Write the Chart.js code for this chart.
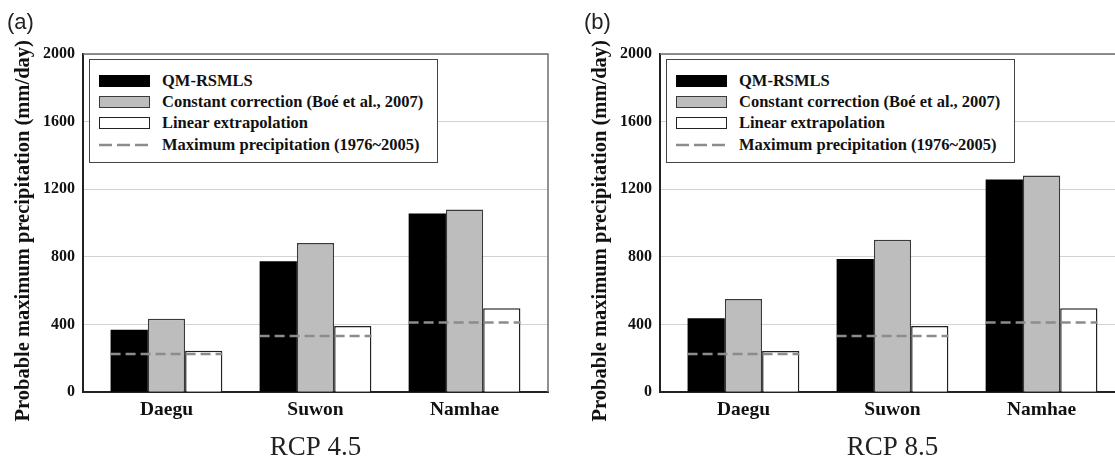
<!DOCTYPE html>
<html>
<head>
<meta charset="utf-8">
<script src="https://cdn.jsdelivr.net/npm/chart.js@4.4.1/dist/chart.umd.min.js"></script>
<style>
    html, body { margin: 0; padding: 0; background: #fff; }
    body { width: 1115px; height: 469px; overflow: hidden; position: relative; }
    .panel { position: absolute; top: 0; width: 577px; height: 469px; }
    .panel canvas { position: absolute; left: 0; top: 0; }
    .tag { position: absolute; left: 7px; top: 11px; font: 22px "Liberation Sans", sans-serif; color: #222; line-height: 1; }
    .legend { position: absolute; left: 89px; top: 59px; width: 349px; height: 104px; box-sizing: border-box;
        border: 1.5px solid #444; background: #fff; padding-top: 10px; }
    .legend .row { height: 21.3px; display: flex; align-items: center; }
    .legend .sw { width: 51px; height: 12px; box-sizing: border-box; margin-left: 9px; }
    .legend .txt { margin-left: 12px; font: bold 16.5px "Liberation Serif", serif; color: #111; white-space: nowrap; }
</style>
</head>
<body>
<div class="panel" style="left:0px">
    <canvas id="chartA" width="577" height="469"></canvas>
    <div class="tag">(a)</div>
    <div class="legend" id="legendA"></div>
</div>
<div class="panel" style="left:577px">
    <canvas id="chartB" width="577" height="469"></canvas>
    <div class="tag">(b)</div>
    <div class="legend" id="legendB"></div>
</div>
<script>
const categories = ['Daegu', 'Suwon', 'Namhae'];
const seriesNames = ['QM-RSMLS', 'Constant correction (Boé et al., 2007)', 'Linear extrapolation', 'Maximum precipitation (1976~2005)'];
const yTicks = [0, 400, 800, 1200, 1600, 2000];

// RCP 4.5
const qmRcp45 = [370, 775, 1057];
const constRcp45 = [434, 883, 1080];
const linearRcp45 = [245, 392, 497];
// RCP 8.5
const qmRcp85 = [438, 788, 1258];
const constRcp85 = [551, 902, 1281];
const linearRcp85 = [243, 391, 497];
// observed maximum (1976~2005)
const maxPrecip = [226, 333, 412];

const barFill = ['#000000', '#bdbdbd', '#ffffff'];
const barBorder = ['#000000', '#3a3a3a', '#222222'];

// dashed max-precipitation line across each group of bars
const maxLinePlugin = {
    id: 'maxLine',
    afterDatasetsDraw(chart, args, opts) {
        const ctx = chart.ctx;
        const y = chart.scales.y;
        const first = chart.getDatasetMeta(0);
        const last = chart.getDatasetMeta(2);
        ctx.save();
        ctx.strokeStyle = '#8c8c8c';
        ctx.lineWidth = 2.5;
        ctx.setLineDash([10, 5]);
        opts.values.forEach((v, i) => {
            const a = first.data[i], b = last.data[i];
            const py = y.getPixelForValue(v);
            ctx.beginPath();
            ctx.moveTo(a.x - a.width / 2, py);
            ctx.lineTo(b.x + b.width / 2, py);
            ctx.stroke();
        });
        ctx.restore();
    }
};

// top and right frame of the plot
const framePlugin = {
    id: 'frame',
    beforeDatasetsDraw(chart) {
        const { ctx, chartArea: a } = chart;
        ctx.save();
        ctx.strokeStyle = '#6e6e6e';
        ctx.lineWidth = 1.5;
        ctx.beginPath();
        ctx.moveTo(a.left, a.top);
        ctx.lineTo(a.right, a.top);
        ctx.lineTo(a.right, a.bottom);
        ctx.stroke();
        ctx.restore();
    }
};

function buildLegend(id) {
    const box = document.getElementById(id);
    seriesNames.forEach((name, i) => {
        const row = document.createElement('div');
        row.className = 'row';
        let sw;
        if (i < 3) {
            sw = `<div class="sw" style="background:${barFill[i]};border:1.5px solid ${barBorder[i]}"></div>`;
        } else {
            sw = '<svg class="sw" width="51" height="12"><line x1="0" y1="6" x2="51" y2="6" stroke="#8c8c8c" stroke-width="2.5" stroke-dasharray="13 5"/></svg>';
        }
        row.innerHTML = sw + `<span class="txt">${name}</span>`;
        box.appendChild(row);
    });
}

function makeChart(canvasId, rcpTitle, qm, cc, lin) {
    const ctx = document.getElementById(canvasId);
    const sets = [qm, cc, lin].map((vals, k) => ({
        label: seriesNames[k],
        data: vals.map((v, i) => ({ x: i, y: v })),
        backgroundColor: barFill[k],
        borderColor: barBorder[k],
        borderWidth: k === 0 ? 0 : 1.5,
        borderSkipped: 'bottom',
        categoryPercentage: 0.75,
        barPercentage: 1.0
    }));
    return new Chart(ctx, {
        type: 'bar',
        data: { datasets: sets },
        options: {
            responsive: false,
            animation: false,
            layout: { padding: { top: 54, right: 29, left: 0, bottom: 0 } },
            plugins: {
                legend: { display: false },
                tooltip: { enabled: false },
                maxLine: { values: maxPrecip }
            },
            scales: {
                x: {
                    type: 'linear',
                    min: -0.56,
                    max: 2.56,
                    offset: false,
                    afterBuildTicks: s => { s.ticks = categories.map((c, i) => ({ value: i })); },
                    grid: { display: false, drawTicks: false, offset: false },
                    border: { display: true, color: '#222', width: 2 },
                    ticks: {
                        autoSkip: false, maxRotation: 0, padding: 6,
                        color: '#111',
                        font: { family: 'Liberation Serif', weight: 'bold', size: 19.5 },
                        callback: v => categories[v]
                    },
                    title: {
                        display: true, text: rcpTitle, color: '#222',
                        font: { family: 'Liberation Serif', size: 27 },
                        padding: { top: 4, bottom: 5 }
                    }
                },
                y: {
                    min: yTicks[0],
                    max: yTicks[yTicks.length - 1],
                    afterFit: s => { s.width = 83; },
                    afterBuildTicks: s => { s.ticks = yTicks.map(v => ({ value: v })); },
                    grid: { color: '#d2d2d2', lineWidth: 1, drawTicks: false },
                    border: { display: true, color: '#222', width: 2 },
                    ticks: {
                        padding: 8, color: '#111',
                        font: { family: 'Liberation Serif', weight: 'bold', size: 16 },
                        callback: v => String(v)
                    },
                    title: {
                        display: true, text: 'Probable maximum precipitation (mm/day)   ', color: '#111',
                        font: { family: 'Liberation Serif', weight: 'bold', size: 20.5 },
                        padding: { top: 11, bottom: 0 }
                    }
                }
            }
        },
        plugins: [maxLinePlugin, framePlugin]
    });
}

document.addEventListener('DOMContentLoaded', function() {
    buildLegend('legendA');
    buildLegend('legendB');
    makeChart('chartA', 'RCP 4.5', qmRcp45, constRcp45, linearRcp45);
    makeChart('chartB', 'RCP 8.5', qmRcp85, constRcp85, linearRcp85);
});
</script>
</body>
</html>
